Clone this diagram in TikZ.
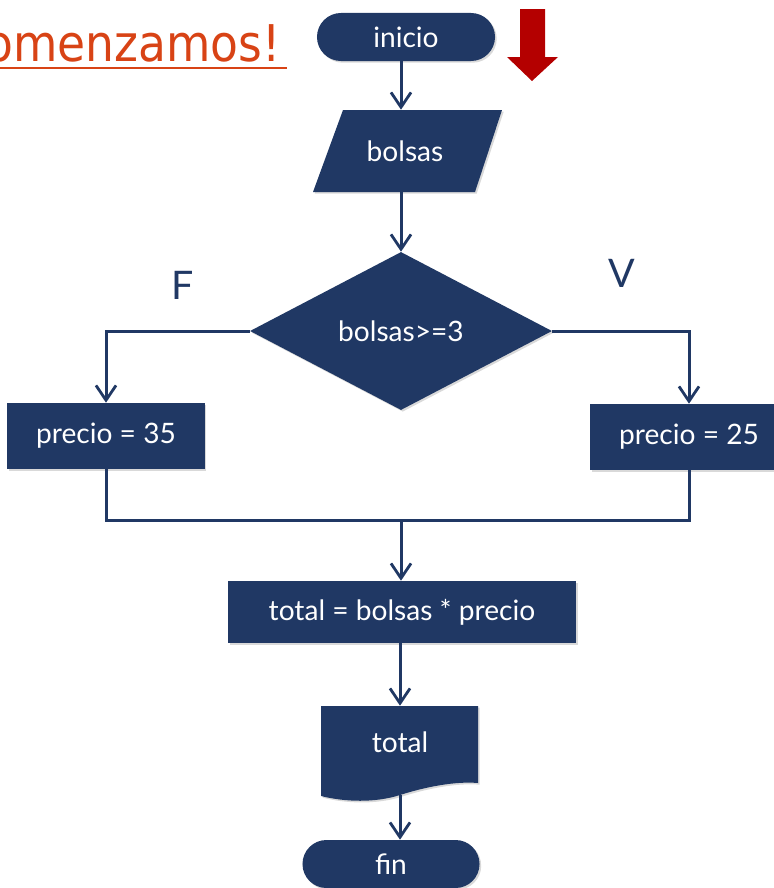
\documentclass[tikz,border=0pt]{standalone}
\usepackage{fontspec}
\setmainfont{Lato}
\newfontfamily\titlefont{DejaVu Sans Condensed}
\usepackage{xcolor}
\usetikzlibrary{positioning,arrows.meta,shadows}
\usepgflibrary{shapes.geometric}
\definecolor{flownavy}{RGB}{32,56,100}
\definecolor{flowred}{RGB}{180,0,0}
\definecolor{titleorange}{RGB}{216,67,21}
\tikzset{%
softshadow/.style={drop shadow={shadow xshift=1.2pt,shadow yshift=-1.2pt,opacity=0.3}},
base/.style={fill=flownavy,text=white,inner sep=0pt,font=\fontsize{20}{24}\selectfont,softshadow},
terminal/.style={base,rectangle,rounded corners=0.6cm,minimum width=#1,minimum height=1.2cm},
blankbox/.style={rectangle,inner sep=0pt,text=white,font=\fontsize{20}{24}\selectfont},
inputbox/.style={blankbox,minimum width=4cm,minimum height=2.05cm},
flowcond/.style={base,diamond,aspect=1.91,minimum width=7.55cm,minimum height=3.95cm},
process/.style={base,rectangle,minimum width=#1,minimum height=1.65cm},
outdoc/.style={blankbox,minimum width=3.925cm,text height=1.15cm,text depth=1.075cm},
flowline/.style={draw=flownavy,line width=0.075cm},
flowarrow/.style={flowline,-{Straight Barb[length=0.37cm,width=0.5cm,line width=0.07cm]}},
branchlabel/.style={text=flownavy,font=\fontsize{28}{32}\selectfont}
}

\begin{document}
\begin{tikzpicture}[x=0.025cm,y=-0.025cm]
    \useasboundingbox (0,0) rectangle (774,888);

    % title and pointer
    \node[anchor=base east,inner sep=0pt,text=titleorange,
          font=\titlefont\fontsize{36}{40}\selectfont] (title) at (281,61) {¡Comenzamos!};
    \draw[titleorange,line width=0.05cm] (-20,68) -- (287,68);
    \fill[flowred] (520,9) -- (545,9) -- (545,57) -- (558,57) -- (532,81)
                   -- (507,57) -- (520,57) -- cycle;

    % flow shapes
    \node[terminal=4.45cm] (inicio) at (406,37) {inicio};
    \fill[flownavy,softshadow] (343,110) -- (502,110) -- (475,192) -- (313,192) -- cycle;
    \node[inputbox] (bolsas) at (405,151) {bolsas};
    \node[flowcond] (cond) at (401,331) {bolsas>=3};
    \node[process=4.925cm] (p35) at (106,436) {precio = 35};
    \node[process=4.925cm] (p25) at (689,437) {precio = 25};
    \node[process=8.7cm,minimum height=1.55cm] (calc) at (402,612) {total = bolsas * precio};
    \fill[flownavy,softshadow]
        (321,706) -- (478,706) -- (478,783)
        .. controls (455,781) and (425,787) .. (400,795)
        .. controls (375,803) and (345,802) .. (321,796) -- cycle;
    \node[outdoc] (doc) at (400,750.5) {total};
    \node[terminal=4.425cm] (fin) at (391,864) {fin};

    \node[branchlabel] (lf) at (183,285) {F};
    \node[branchlabel] (lv) at (622,273) {V};

    % connectors
    \draw[flowarrow] (inicio.south -| cond.north) -- (bolsas.north -| cond.north);
    \draw[flowarrow] (bolsas.south -| cond.north) -- (cond.north);
    \draw[flowarrow] (cond.west) -| (p35.north);
    \draw[flowarrow] (cond.east) -| (p25.north);
    \coordinate (merge) at (401,520);
    \draw[flowline] (p35.south) |- (merge) -| (p25.south);
    \draw[flowarrow] (merge) -- (calc.north -| merge);
    \draw[flowarrow] (calc.south -| doc.north) -- (doc.north);
    \draw[flowarrow] (doc.south) -- (doc.south |- fin.north);
  \end{tikzpicture}
\end{document}
